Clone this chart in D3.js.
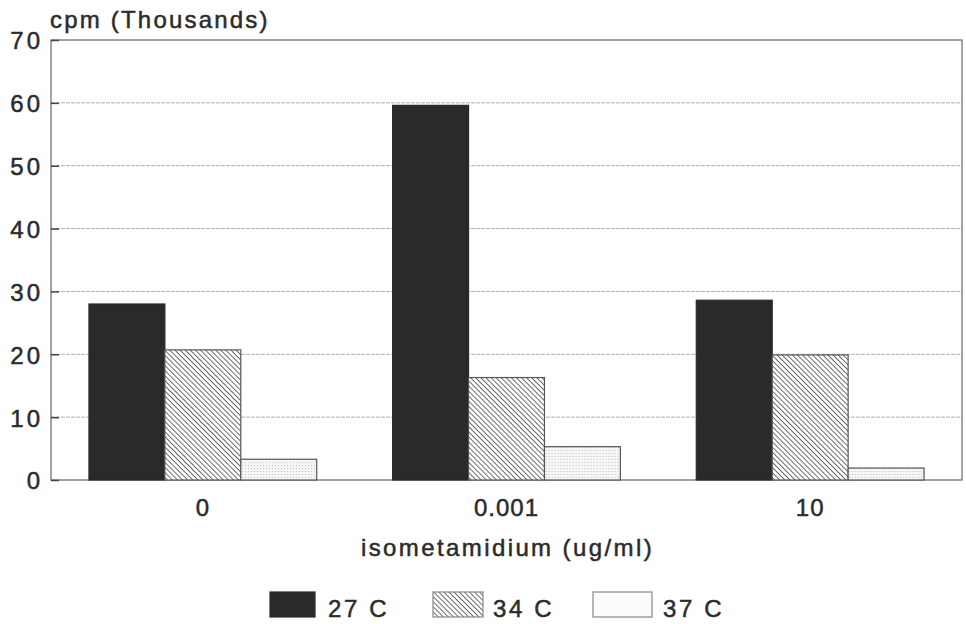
<!DOCTYPE html>
<html><head><meta charset="utf-8">
<script src="https://cdn.jsdelivr.net/npm/d3@7"></script>
<style>body{margin:0;background:#fff;} text{font-family:"Liberation Sans",Arial,sans-serif;fill:#2b2b2b;stroke:#2b2b2b;stroke-width:0.5px;font-size:24px;}</style>
</head><body>
<svg id="c" width="966" height="624"></svg>
<script>
const categories = ["0", "0.001", "10"];
const seriesNames = ["27 C", "34 C", "37 C"];
const s27 = [28.0, 59.6, 28.6];
const s34 = [20.7, 16.3, 19.9];
const s37 = [3.3, 5.3, 1.9];
const yTicks = [0, 10, 20, 30, 40, 50, 60, 70];

const svg = d3.select("#c");
const m = {l: 51, r: 962, t: 40, b: 480};
const defs = svg.append("defs");
const hatch = defs.append("pattern").attr("id","hatch").attr("patternUnits","userSpaceOnUse")
  .attr("width",3.6).attr("height",3.6).attr("patternTransform","rotate(-45)");
hatch.append("rect").attr("width",3.6).attr("height",3.6).attr("fill","#fff");
hatch.append("line").attr("x1",0).attr("y1",0).attr("x2",0).attr("y2",3.6).attr("stroke","#4a4a4a").attr("stroke-width",1.6);
const dots = defs.append("pattern").attr("id","dots").attr("patternUnits","userSpaceOnUse")
  .attr("width",3).attr("height",3);
dots.append("rect").attr("width",3).attr("height",3).attr("fill","#f6f6f6");
dots.append("rect").attr("width",1).attr("height",1).attr("fill","#c4c4c4");

const fills = ["#2a2a2a", "url(#hatch)", "url(#dots)"];
const data = categories.map((c,i)=>({cat:c, vals:[s27[i], s34[i], s37[i]]}));

const x = d3.scaleBand().domain(categories).range([m.l, m.r]).paddingInner(0.25).paddingOuter(0.125);
const xs = d3.scaleBand().domain(d3.range(3)).range([0, x.bandwidth()]);
const y = d3.scaleLinear().domain([0,70]).range([m.b, m.t]);

// grid
svg.append("g").selectAll("line").data(yTicks.filter(t=>t>0 && t<70)).join("line")
  .attr("x1", m.l).attr("x2", m.r).attr("y1", d=>y(d)).attr("y2", d=>y(d))
  .attr("stroke","#b0b0b0").attr("stroke-width",1).attr("stroke-dasharray","4,1");

// frame
svg.append("rect").attr("x",m.l).attr("y",m.t).attr("width",m.r-m.l).attr("height",m.b-m.t)
  .attr("fill","none").attr("stroke","#666").attr("stroke-width",1.2);

// bars
const g = svg.append("g").selectAll("g").data(data).join("g").attr("transform", d=>`translate(${x(d.cat)},0)`);
g.selectAll("rect").data(d=>d.vals.map((v,i)=>({v,i}))).join("rect")
  .attr("x", d=>xs(d.i)).attr("width", xs.bandwidth())
  .attr("y", d=>y(d.v)).attr("height", d=>y(0)-y(d.v))
  .attr("fill", d=>fills[d.i]).attr("stroke", d=>d.i===0?"#2a2a2a":"#555").attr("stroke-width",1.2);

// y axis
const ya = svg.append("g").attr("transform",`translate(${m.l},0)`)
  .call(d3.axisLeft(y).tickValues(yTicks).tickSize(-8).tickPadding(8).tickFormat(d3.format("d")));
ya.select(".domain").remove();
ya.selectAll("line").attr("stroke","#444").attr("stroke-width",1.5);
ya.selectAll("text").attr("font-size",null).style("letter-spacing","3px").attr("fill","#2b2b2b").attr("dy","0.37em");

// x axis
const xa = svg.append("g").attr("transform",`translate(0,${m.b})`)
  .call(d3.axisBottom(x).tickSize(0).tickPadding(19));
xa.select(".domain").remove();
xa.selectAll("text").attr("font-size",null).style("letter-spacing","1px").attr("fill","#2b2b2b");

svg.append("text").attr("x",50).attr("y",28).style("letter-spacing","2.2px").text("cpm (Thousands)");
svg.append("text").attr("x",(m.l+m.r)/2 + 1).attr("y",556).attr("text-anchor","middle").style("letter-spacing","2.4px").text("isometamidium (ug/ml)");

// legend
const legX = [270, 433, 593];
const legW = [45, 50, 59];
const legT = [58, 60, 70];
const lg = svg.append("g").selectAll("g").data(seriesNames).join("g").attr("transform",(d,i)=>`translate(${legX[i]},592)`);
lg.append("rect").attr("width",(d,i)=>legW[i]).attr("height",25)
  .attr("fill",(d,i)=>["#2a2a2a","url(#hatch)","#fbfbfb"][i]).attr("stroke",(d,i)=>i===0?"#2a2a2a":"#888").attr("stroke-width",1.2);
lg.append("text").attr("x",(d,i)=>legT[i]).attr("y",25).style("letter-spacing","2.6px").text(d=>d);
</script>
</body></html>
